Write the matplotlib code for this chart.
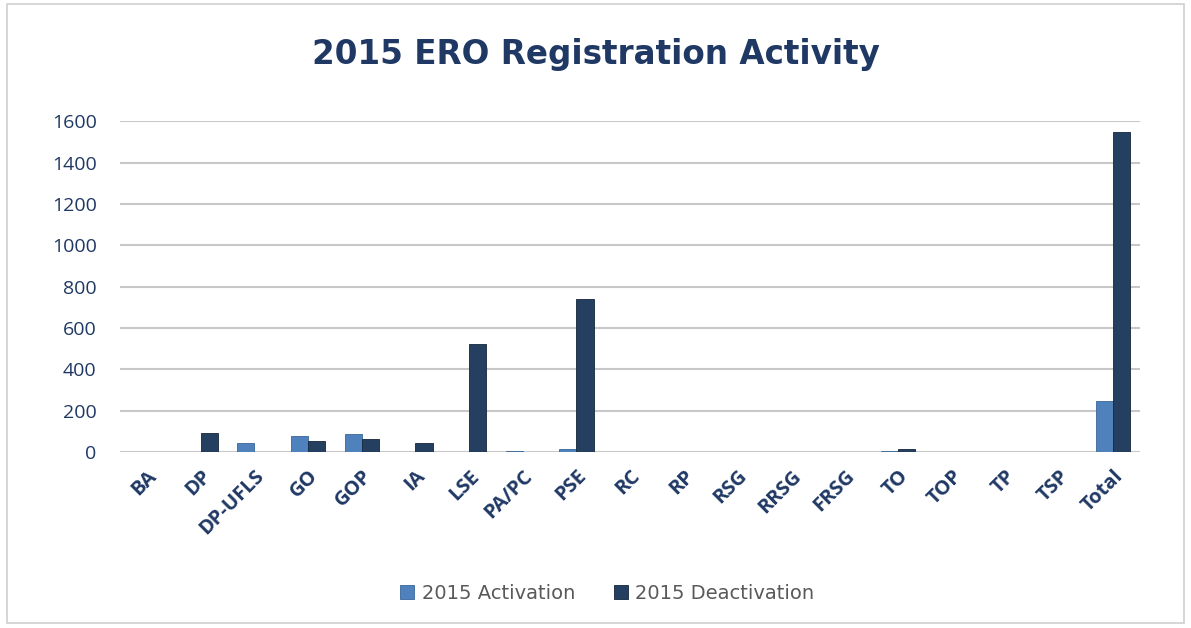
import numpy as np
import matplotlib
matplotlib.use("Agg")
import matplotlib.pyplot as plt
from matplotlib.patches import Rectangle

# Data
categories = ['BA', 'DP', 'DP-UFLS', 'GO', 'GOP', 'IA', 'LSE', 'PA/PC', 'PSE', 'RC',
              'RP', 'RSG', 'RRSG', 'FRSG', 'TO', 'TOP', 'TP', 'TSP', 'Total']
activation = [0, 2, 45, 80, 90, 0, 3, 4, 15, 0, 0, 0, 0, 0, 8, 3, 3, 3, 245]
deactivation = [0, 95, 0, 55, 65, 45, 525, 3, 740, 0, 2, 0, 0, 0, 15, 3, 3, 3, 1550]
yticks = [0, 200, 400, 600, 800, 1000, 1200, 1400, 1600]

navy = '#1F3864'
c_act = '#4F81BD'
c_deact = '#243F60'

fig = plt.figure(figsize=(11.91, 6.28), dpi=100)
fig.patches.append(Rectangle((0.006, 0.008), 0.988, 0.985, transform=fig.transFigure,
                             fill=False, edgecolor='#D0D0D0', linewidth=1.2))

ax = fig.add_axes([0.101, 0.28, 0.856, 0.527])
x = np.arange(len(categories))
w = 0.32
ax.bar(x - w / 2, activation, w, color=c_act, edgecolor='#3A6699', linewidth=0.6,
       label='2015 Activation', zorder=3)
ax.bar(x + w / 2, deactivation, w, color=c_deact, edgecolor='#15263B', linewidth=0.6,
       label='2015 Deactivation', zorder=3)

ax.set_ylim(0, 1600)
ax.set_xlim(-0.5, len(categories) - 0.5)
ax.set_yticks(yticks)
ax.set_yticklabels([str(v) for v in yticks], fontsize=14, color=navy,
                   family='Open Sans')
ax.set_xticks(x)
ax.set_xticklabels(categories, rotation=45, ha='right', rotation_mode='anchor',
                   fontsize=14.5, fontweight='bold', color=navy, family='Open Sans')
ax.tick_params(axis='y', length=0, pad=17)
ax.tick_params(axis='x', length=0, pad=10)
ax.yaxis.grid(True, color='#C8C8C8', linewidth=1.5, zorder=0)
for s in ax.spines.values():
    s.set_visible(False)

fig.suptitle('2015 ERO Registration Activity', fontsize=23.5, fontweight='bold',
             color=navy, y=0.94)
fig.legend(loc='lower center', bbox_to_anchor=(0.51, 0.012), ncol=2, frameon=False,
           prop={'size': 14}, handlelength=0.7, handleheight=0.7, handletextpad=0.4,
           columnspacing=2.0, labelcolor='#595959')

fig.savefig('out.png', dpi=100)
